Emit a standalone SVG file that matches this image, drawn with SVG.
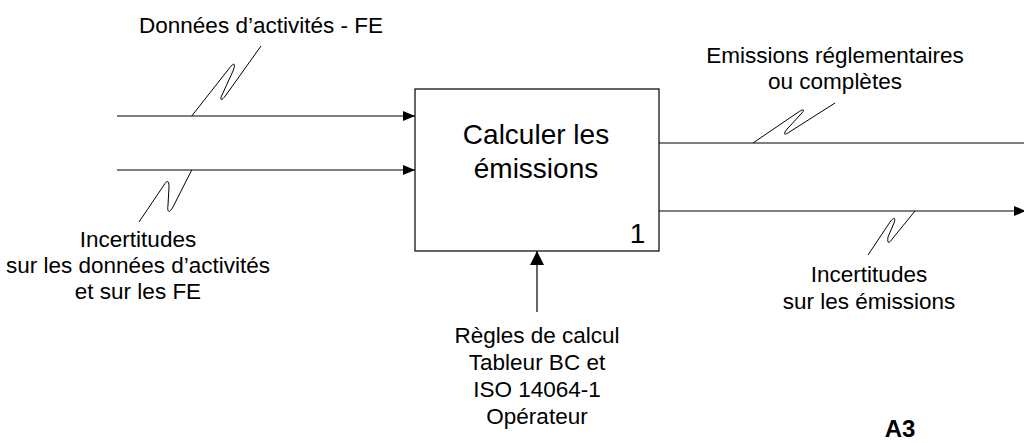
<svg xmlns="http://www.w3.org/2000/svg" width="1024" height="443" viewBox="0 0 1024 443">
<style>
.t{font-family:"Liberation Sans",Arial,sans-serif;font-size:22.5px;fill:#000;text-anchor:middle}
.big{font-size:28px}
.ln{stroke:#000;stroke-width:1.2;fill:none}
.sq{stroke:#000;stroke-width:1;fill:none}
</style>
<defs>
<marker id="ah" markerWidth="12" markerHeight="10" refX="12" refY="5" orient="auto" markerUnits="userSpaceOnUse">
<path d="M0,0 L12,5 L0,10 Z" fill="#000"/>
</marker>
<marker id="ahb" markerWidth="14" markerHeight="14" refX="14" refY="7" orient="auto" markerUnits="userSpaceOnUse">
<path d="M0,0 L14,7 L0,14 Z" fill="#000"/>
</marker>
</defs>
<rect width="1024" height="443" fill="#fff"/>
<g id="connectors">
<line class="ln" x1="117" y1="116" x2="415" y2="116" marker-end="url(#ah)"/>
<line class="ln" x1="117" y1="170" x2="415" y2="170" marker-end="url(#ah)"/>
<line class="ln" x1="659" y1="143" x2="1024" y2="143"/>
<line class="ln" x1="659" y1="211" x2="1026" y2="211" marker-end="url(#ah)"/>
<line class="ln" x1="537" y1="312" x2="537" y2="251" marker-end="url(#ahb)"/>
<path class="sq" d="M191.7,116 L229.5,68 C234,62 236,63 233,71 L222,95 C219,101 222,101 226,95 L261,46"/>
<path class="sq" d="M191.7,170 L173,207 C169,214 167,212 168,205 L169,187 C169,180 167,180 164,185 L139,222"/>
<path class="sq" d="M753,143 L797,113 C804,108 806,109 800,115 L788,128 C782,135 784,136 791,131 L835,103"/>
<path class="sq" d="M915,211 L893,238 C889,244 887,244 888,237 L894,223 C896,217 894,217 890,222 L868,255"/>
</g>
<g id="node-box">
<rect x="415" y="89" width="244" height="162" fill="#fff" stroke="#000" stroke-width="1.2"/>
<text class="t big" x="536" y="144">Calculer les</text>
<text class="t big" x="536" y="178">émissions</text>
<text class="t big" x="637.5" y="243">1</text>
</g>
<g id="label-input1">
<text class="t" x="261" y="33">Données d’activités - FE</text>
</g>
<g id="label-input2">
<text class="t" x="138" y="247">Incertitudes</text>
<text class="t" x="138" y="273">sur les données d’activités</text>
<text class="t" x="138" y="299">et sur les FE</text>
</g>
<g id="label-output1">
<text class="t" x="835" y="63">Emissions réglementaires</text>
<text class="t" x="835" y="89">ou complètes</text>
</g>
<g id="label-output2">
<text class="t" x="869" y="282">Incertitudes</text>
<text class="t" x="869" y="309">sur les émissions</text>
</g>
<g id="label-control">
<text class="t" x="537" y="343">Règles de calcul</text>
<text class="t" x="537" y="370">Tableur BC et</text>
<text class="t" x="537" y="397">ISO 14064-1</text>
<text class="t" x="537" y="424">Opérateur</text>
</g>
<g id="label-a3">
<text class="t" x="900" y="437" style="font-weight:bold;font-size:24px">A3</text>
</g>
</svg>
